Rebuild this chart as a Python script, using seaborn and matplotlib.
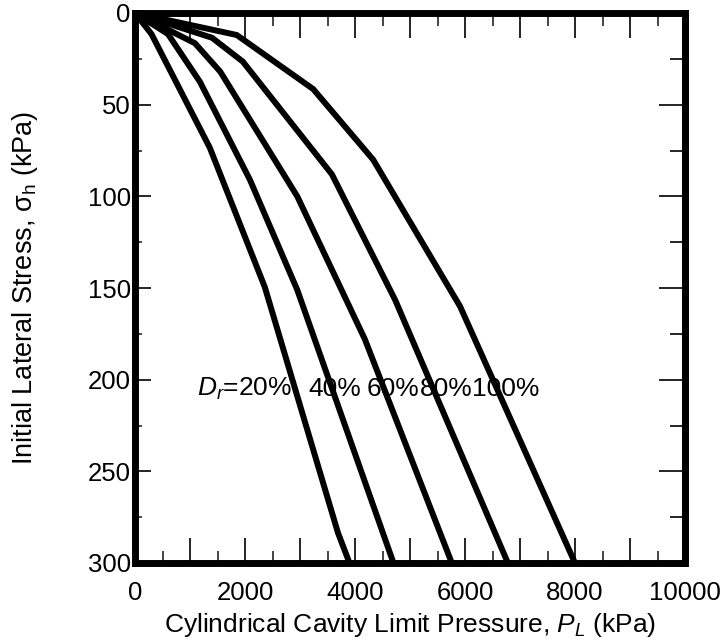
import matplotlib
matplotlib.use("Agg")
import matplotlib.pyplot as plt
import seaborn as sns
import pandas as pd

# ---- data ----
dr_labels = ["20%", "40%", "60%", "80%", "100%"]
pl_20 = [0, 300, 1360, 2360, 3690, 3900]
sh_20 = [0, 11.5, 73.5, 149.5, 283.5, 300]
pl_40 = [0, 600, 1180, 2090, 2950, 4700]
sh_40 = [0, 11.5, 37.5, 91, 151, 300]
pl_60 = [0, 1090, 1550, 2950, 4180, 5760]
sh_60 = [0, 16.5, 32, 100, 178, 300]
pl_80 = [0, 1400, 1960, 3580, 4730, 6780]
sh_80 = [0, 13.5, 26.5, 88, 156.5, 300]
pl_100 = [0, 1850, 3240, 4330, 5910, 8000]
sh_100 = [0, 12, 41.5, 80, 160, 300]

x_ticks = [0, 1000, 2000, 3000, 4000, 5000, 6000, 7000, 8000, 9000, 10000]
x_ticklabels = ["0", "", "2000", "", "4000", "", "6000", "", "8000", "", "10000"]
y_ticks = [0, 50, 100, 150, 200, 250, 300]
y_ticklabels = ["0", "50", "100", "150", "200", "250", "300"]

label_x = [1130, 3150, 4220, 5180, 6130]
label_y = 205
label_texts = ["$D_r$=20%", "40%", "60%", "80%", "100%"]

series = [(pl_20, sh_20), (pl_40, sh_40), (pl_60, sh_60), (pl_80, sh_80), (pl_100, sh_100)]
rows = []
for lab, (xs, ys) in zip(dr_labels, series):
    for i, (xv, yv) in enumerate(zip(xs, ys)):
        rows.append({"Dr": lab, "order": i, "PL": xv, "sigma": yv})
df = pd.DataFrame(rows)

# ---- style ----
sns.set_theme(style="white")
plt.rcParams["font.family"] = ["Liberation Sans", "DejaVu Sans"]
plt.rcParams["text.color"] = "black"
plt.rcParams["axes.labelcolor"] = "black"
plt.rcParams["mathtext.fontset"] = "custom"
plt.rcParams["mathtext.rm"] = "Liberation Sans"
plt.rcParams["mathtext.it"] = "Liberation Sans:italic"
plt.rcParams["mathtext.bf"] = "Liberation Sans:bold"

fig = plt.figure(figsize=(7.25, 6.44), dpi=100)
ax = fig.add_axes([135 / 725, 1 - 563 / 644, 550 / 725, 550 / 644])

sns.lineplot(data=df, x="PL", y="sigma", hue="Dr", palette=["black"] * 5,
             sort=False, estimator=None, legend=False, linewidth=4.3, ax=ax,
             solid_joinstyle="miter")

ax.set_xlim(0, 10000)
ax.set_ylim(300, 0)

for s in ax.spines.values():
    s.set_visible(True)
    s.set_linewidth(5)
    s.set_color("black")

ax.set_xticks(x_ticks)
ax.set_xticklabels(x_ticklabels)
ax.set_xticks([500 + 1000 * i for i in range(10)], minor=True)
ax.set_yticks(y_ticks)
ax.set_yticklabels(y_ticklabels)
ax.set_yticks([25 + 50 * i for i in range(6)], minor=True)

ax.tick_params(axis="x", which="major", direction="in", length=18, width=1.2,
               top=True, bottom=True, labelsize=18.5, pad=13, colors="black")
ax.tick_params(axis="x", which="minor", direction="in", length=9, width=1.2,
               top=True, bottom=True)
ax.tick_params(axis="y", which="major", direction="in", length=11.5, width=1.2,
               left=True, right=False, labelsize=18.5, pad=3, colors="black")
ax.tick_params(axis="y", which="minor", direction="in", length=5, width=1.2,
               left=True, right=False)

sec = ax.secondary_yaxis("right")
sec.set_yticks(y_ticks)
sec.set_yticklabels([])
sec.set_yticks([25 + 50 * i for i in range(6)], minor=True)
sec.tick_params(axis="y", which="major", direction="in", length=19, width=1.2, colors="black")
sec.tick_params(axis="y", which="minor", direction="in", length=11, width=1.2, colors="black")
sec.spines["right"].set_linewidth(5)
sec.spines["right"].set_color("black")

ax.set_xlabel("Cylindrical Cavity Limit Pressure, $P_L$ (kPa)", fontsize=19, labelpad=4)
ax.set_ylabel("Initial Lateral Stress, σ$_\\mathregular{h}$ (kPa)", fontsize=19.5, labelpad=34)

for tx, t in zip(label_x, label_texts):
    ax.text(tx, label_y, t, fontsize=19, ha="left", va="center")

fig.savefig("out.png", dpi=100)
